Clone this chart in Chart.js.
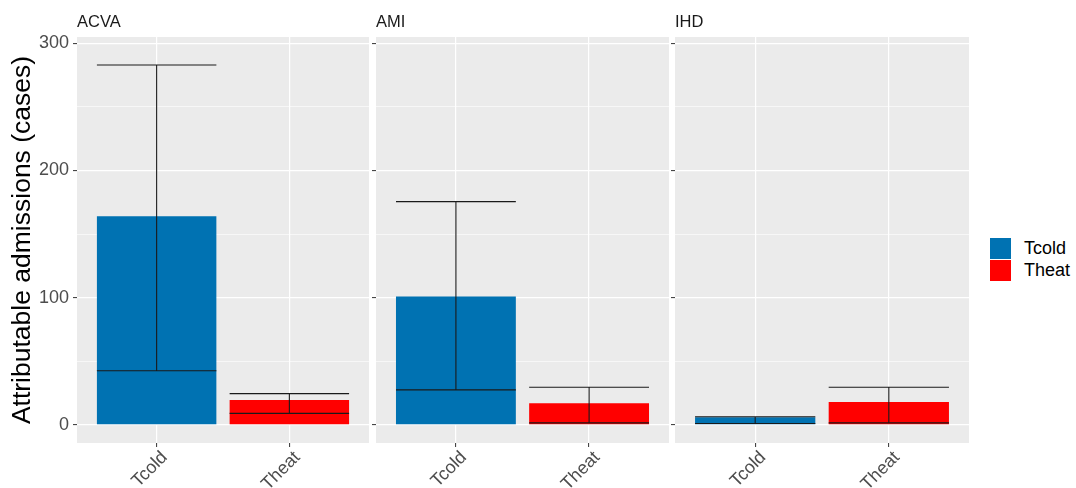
<!DOCTYPE html>
<html><head><meta charset="utf-8">
<script src="https://cdn.jsdelivr.net/npm/chart.js@4/dist/chart.umd.min.js"></script>
<style>
body{margin:0;background:#fff;width:1076px;height:488px;position:relative;overflow:hidden;font-family:"Liberation Sans",Arial,sans-serif;}
canvas{position:absolute;top:0;}
.strip{position:absolute;top:12px;font-size:16.5px;color:#1a1a1a;line-height:19px;}
#legend{position:absolute;left:990px;top:237px;}
.li{display:flex;align-items:center;height:22px;}
.sw{width:21px;height:21px;margin-right:13px;}
.lt{font-size:18px;color:#000;}
</style></head><body>
<canvas id="c0" width="369" height="488" style="left:0px"></canvas>
<canvas id="c1" width="300" height="488" style="left:369px"></canvas>
<canvas id="c2" width="300" height="488" style="left:669px"></canvas>
<div class="strip" id="s0" style="left:77px"></div>
<div class="strip" id="s1" style="left:376px"></div>
<div class="strip" id="s2" style="left:675px"></div>
<div id="legend"></div>
<script>
const panels = ['ACVA', 'AMI', 'IHD'];
const categories = ['Tcold', 'Theat'];
const seriesColors = ['#0072B2', '#FF0000'];
const acvaValues = [164, 19.5];
const acvaLower = [42.5, 9];
const acvaUpper = [283, 24.5];
const amiValues = [101, 17];
const amiLower = [27.5, 1.5];
const amiUpper = [175.5, 29.5];
const ihdValues = [6, 18];
const ihdLower = [1, 1.5];
const ihdUpper = [6.3, 29.5];
const yTicks = [0, 50, 100, 150, 200, 250, 300];
const yMin = -14.3, yMax = 305;

const panelData = [
  [acvaValues, acvaLower, acvaUpper],
  [amiValues, amiLower, amiUpper],
  [ihdValues, ihdLower, ihdUpper]
];

const bgPlugin = {
  id: 'panelBg',
  beforeDraw(chart) {
    const a = chart.chartArea, c = chart.ctx;
    c.save(); c.fillStyle = '#ebebeb';
    c.fillRect(a.left, a.top, a.right - a.left, a.bottom - a.top);
    c.restore();
  }
};
const errPlugin = {
  id: 'errBars',
  afterDatasetsDraw(chart) {
    const c = chart.ctx, y = chart.scales.y;
    const lo = chart.options.plugins.errBars.lower, hi = chart.options.plugins.errBars.upper;
    const meta = chart.getDatasetMeta(0);
    c.save(); c.strokeStyle = '#1a1a1a'; c.lineWidth = 1.1;
    meta.data.forEach((el, i) => {
      const yl = y.getPixelForValue(lo[i]), yh = y.getPixelForValue(hi[i]);
      const h = el.width / 2;
      c.beginPath();
      c.moveTo(el.x - h, yh); c.lineTo(el.x + h, yh);
      c.moveTo(el.x - h, yl); c.lineTo(el.x + h, yl);
      c.moveTo(el.x, yh); c.lineTo(el.x, yl);
      c.stroke();
    });
    c.restore();
  }
};

function makeChart(idx) {
  const [vals, lo, hi] = panelData[idx];
  const first = idx === 0;
  const axisW = first ? 77 : (idx === 1 ? 7 : 6);
  document.getElementById('s' + idx).textContent = panels[idx];
  new Chart(document.getElementById('c' + idx), {
    type: 'bar',
    data: {
      datasets: [{
        data: categories.map((c, i) => ({ x: i + 1, y: vals[i] })),
        backgroundColor: seriesColors,
        borderWidth: 0,
        categoryPercentage: 1,
        barPercentage: 0.9
      }]
    },
    options: {
      responsive: false, animation: false,
      layout: { padding: { top: 37, right: 0, left: 0, bottom: 0 } },
      plugins: { legend: { display: false }, tooltip: { enabled: false }, errBars: { lower: lo, upper: hi } },
      scales: {
        x: {
          type: 'linear', min: 0.4, max: 2.6, offset: false,
          afterBuildTicks: s => { s.ticks = categories.map((c, i) => ({ value: i + 1 })); },
          afterFit: s => { s.height = 45; s.paddingLeft = 0; s.paddingRight = 0; },
          border: { display: false },
          grid: { offset: false, color: '#ffffff', lineWidth: 1.2, tickColor: '#333333', tickLength: 4, tickWidth: 1 },
          ticks: {
            autoSkip: false, minRotation: 45, maxRotation: 45, padding: 0, labelOffset: 8,
            color: '#4d4d4d', font: { family: 'Liberation Sans', size: 18 },
            callback: v => categories[Math.round(v) - 1]
          }
        },
        y: {
          min: yMin, max: yMax,
          afterBuildTicks: s => { s.ticks = yTicks.map(v => ({ value: v })); },
          afterFit: s => { s.width = axisW; },
          border: { display: false },
          grid: {
            color: '#ffffff',
            lineWidth: ctx => (ctx.tick && ctx.tick.value % 100 === 0) ? 1.2 : 0.6,
            tickColor: ctx => (ctx.tick && ctx.tick.value % 100 === 0) ? '#333333' : 'rgba(0,0,0,0)',
            tickLength: 4, tickWidth: 1
          },
          ticks: {
            display: first, padding: 4, color: '#4d4d4d',
            font: { family: 'Liberation Sans', size: 18 },
            callback: v => (v % 100 === 0 ? String(v) : '')
          },
          title: {
            display: first, text: 'Attributable admissions (cases)', color: '#000000',
            font: { family: 'Liberation Sans', size: 26.5 }, padding: { top: 7, bottom: 0 }
          }
        }
      }
    },
    plugins: [bgPlugin, errPlugin]
  });
}
[0, 1, 2].forEach(makeChart);

const lg = document.getElementById('legend');
categories.forEach((c, i) => {
  const d = document.createElement('div'); d.className = 'li';
  d.innerHTML = '<div class="sw" style="background:' + seriesColors[i] + '"></div><span class="lt">' + c + '</span>';
  lg.appendChild(d);
});
</script>
</body></html>
